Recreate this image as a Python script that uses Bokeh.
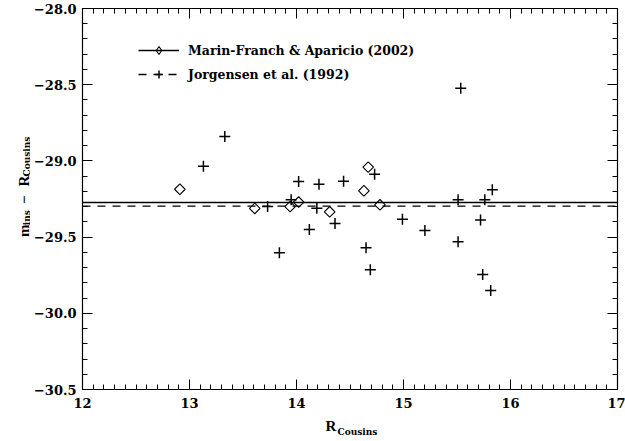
import numpy as np
from bokeh.plotting import figure
from bokeh.layouts import row, column
from bokeh.models import (Range1d, Legend, LegendItem, LinearAxis,
                          SingleIntervalTicker, CustomJSTickFormatter)
from bokeh.core.properties import value
from bokeh.embed import file_html
from bokeh.resources import INLINE

# Marin-Franch & Aparicio (2002)
mf_x = [12.91, 13.61, 13.94, 14.02, 14.31, 14.63, 14.67, 14.78]
mf_y = [-29.186, -29.312, -29.300, -29.270, -29.334, -29.196, -29.041, -29.288]
mf_mean = -29.273

# Jorgensen et al. (1992)
j92_x = [13.13, 13.33, 13.73, 13.84, 13.95, 14.02, 14.12, 14.19, 14.21, 14.36,
         14.44, 14.65, 14.69, 14.73, 14.99, 15.20, 15.51, 15.51, 15.535, 15.72,
         15.74, 15.76, 15.815, 15.83]
j92_y = [-29.035, -28.840, -29.299, -29.603, -29.255, -29.135, -29.450, -29.310,
         -29.153, -29.410, -29.133, -29.570, -29.715, -29.087, -29.383, -29.457,
         -29.255, -29.531, -28.523, -29.387, -29.745, -29.255, -29.850, -29.190]
j92_mean = -29.297

legend_labels = ["Marin-Franch & Aparicio (2002)", "Jorgensen et al. (1992)"]
x_lim = [12, 17]
y_lim = [-30.5, -28.0]
y_title = ["m", "ins", "\u2212", "R", "Cousins"]
x_title = ["R", "Cousins"]

FONT = "DejaVu Serif"
TFONT = "Liberation Serif"

# ---------------- main plot ----------------
p = figure(width=595, height=415, x_range=Range1d(*x_lim), y_range=Range1d(*y_lim),
           output_backend="svg", toolbar_location=None,
           min_border_left=51, min_border_right=8, min_border_top=8, min_border_bottom=26)
p.xgrid.visible = False
p.ygrid.visible = False
p.outline_line_color = "black"
p.outline_line_width = 1.2

xt = SingleIntervalTicker(interval=1, num_minor_ticks=10)
yt = SingleIntervalTicker(interval=0.5, num_minor_ticks=5)
p.xaxis.ticker = xt
p.yaxis.ticker = yt
p.yaxis.formatter = CustomJSTickFormatter(
    code="return (tick < 0 ? '\u2212' : '') + Math.abs(tick).toFixed(1);")

for ax in (p.xaxis[0], p.yaxis[0]):
    ax.major_tick_in = 10
    ax.major_tick_out = 0
    ax.minor_tick_in = 5
    ax.minor_tick_out = 0
    ax.axis_line_color = "black"
    ax.major_tick_line_color = "black"
    ax.minor_tick_line_color = "black"
    ax.major_label_text_font = FONT
    ax.major_label_text_font_style = "bold"
    ax.major_label_text_font_size = "13px"
    ax.major_label_text_color = "black"
p.xaxis.major_label_standoff = 8
p.yaxis.major_label_standoff = 6

blank = CustomJSTickFormatter(code="return '';")
top = LinearAxis(ticker=xt, formatter=blank, major_label_standoff=0,
                 major_tick_in=10, major_tick_out=0, minor_tick_in=5, minor_tick_out=0)
right = LinearAxis(ticker=yt, formatter=blank, major_label_standoff=0,
                   major_tick_in=10, major_tick_out=0, minor_tick_in=5, minor_tick_out=0)
p.add_layout(top, "above")
p.add_layout(right, "right")

# mean lines
ln_mf = p.line(x=x_lim, y=[mf_mean, mf_mean], line_color="black", line_width=1.3)
ln_j = p.line(x=x_lim, y=[j92_mean, j92_mean], line_color="black", line_width=1.3,
              line_dash="8 7")

# data
sc_mf = p.scatter(mf_x, mf_y, marker="square", angle=np.pi / 4, size=7.5,
                  fill_color=None, line_color="black", line_width=1.1)
sc_j = p.scatter(j92_x, j92_y, marker="cross", size=11, line_color="black", line_width=1.5)
# legend-only diamond (same data, hidden)
lg_mf = p.scatter(mf_x, mf_y, marker="diamond", size=10, fill_color=None,
                  line_color="black", line_width=1.1, visible=False)

legend = Legend(items=[LegendItem(label=legend_labels[0], renderers=[ln_mf, lg_mf]),
                       LegendItem(label=legend_labels[1], renderers=[ln_j, sc_j])],
                location=(56, 305), glyph_width=41, glyph_height=20, label_height=20,
                label_standoff=9, spacing=4, padding=0, margin=0,
                border_line_color=None, background_fill_alpha=0,
                inactive_fill_alpha=0,
                label_text_font=FONT, label_text_font_style="bold",
                label_text_font_size="12.5px", label_text_color="black")
p.add_layout(legend)

# ---------------- axis titles (own small canvases) ----------------
def label_canvas(w, h):
    f = figure(width=w, height=h, x_range=Range1d(0, w), y_range=Range1d(0, h),
               output_backend="svg", toolbar_location=None,
               x_axis_location=None, y_axis_location=None, min_border=0)
    f.xgrid.visible = False
    f.ygrid.visible = False
    f.outline_line_color = None
    return f

main_kw = dict(text_font=value(TFONT), text_font_style="bold", text_font_size="15px",
               text_align="left", text_baseline="alphabetic", text_color="black")
sub_kw = dict(text_font=value(FONT), text_font_style="bold", text_font_size="9px",
              text_align="left", text_baseline="alphabetic", text_color="black")

# y title: canvas 30 x 415, y measured upward from its bottom (canvas y = 415 - y)
yl = label_canvas(30, 415)
yl.text(x=[23, 23, 23], y=[166, 202, 221], text=[y_title[0], y_title[2], y_title[3]],
        angle=np.pi / 2, **main_kw)
yl.text(x=[26, 26], y=[179, 232], text=[y_title[1], y_title[4]],
        angle=np.pi / 2, **sub_kw)

# x title: canvas 625 x 26
xl = label_canvas(625, 26)
xl.text(x=[325], y=[16], text=[x_title[0]], **main_kw)
xl.text(x=[337], y=[10], text=[x_title[1]], **sub_kw)

layout = column(row(yl, p), xl)
open("out.html", "w").write(file_html(layout, INLINE))
